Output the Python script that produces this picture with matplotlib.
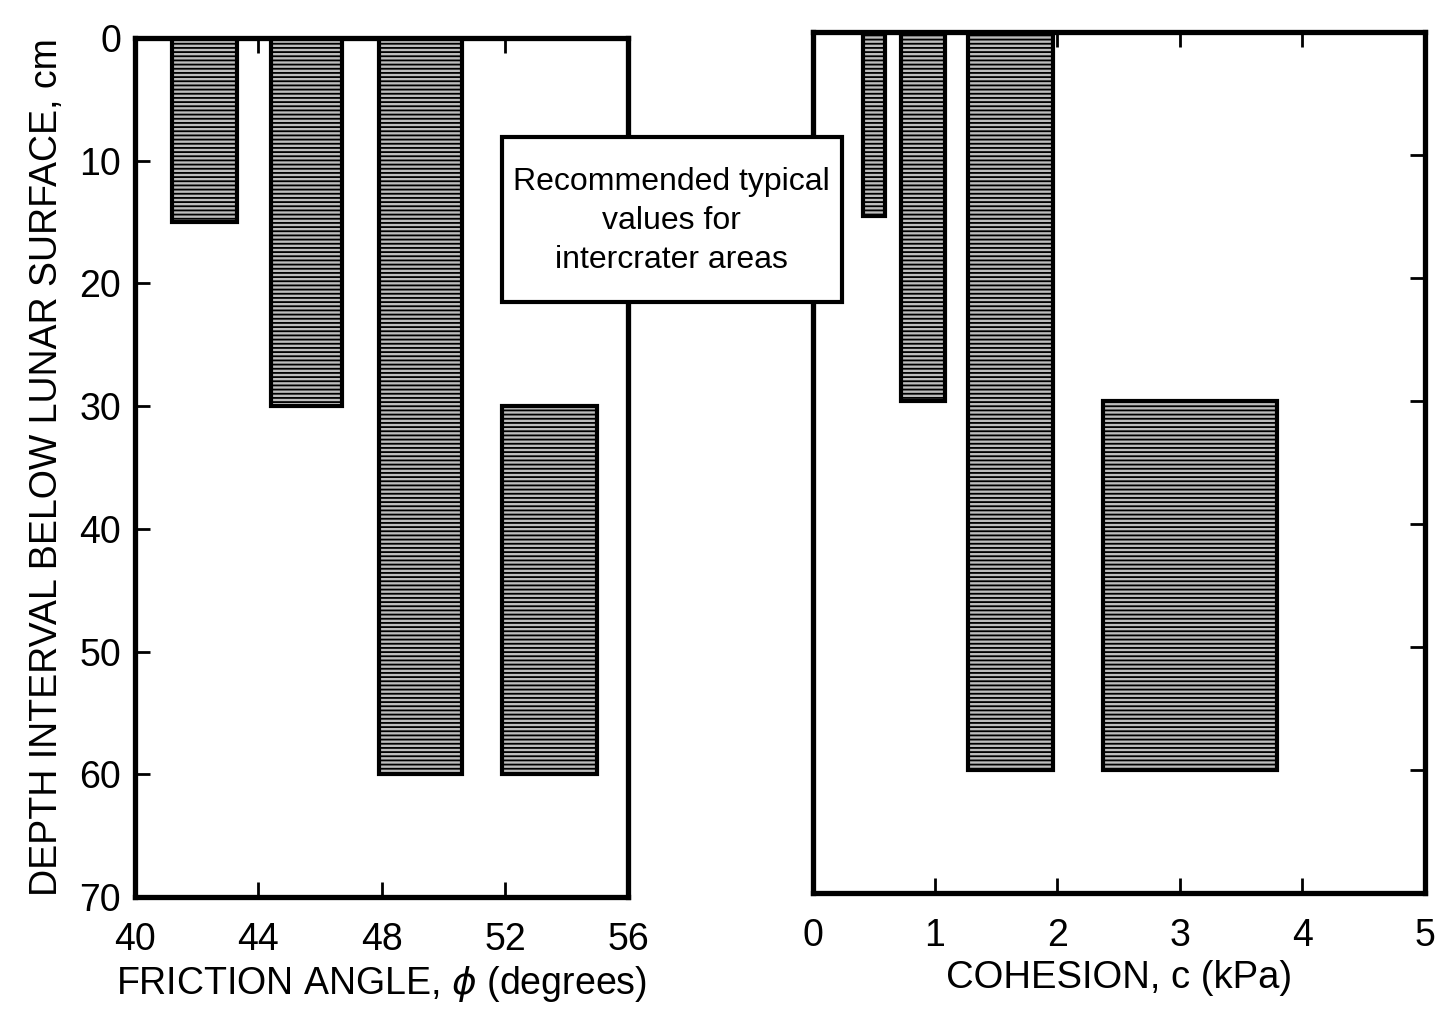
import matplotlib
matplotlib.use("Agg")
import matplotlib.pyplot as plt
from matplotlib.patches import Rectangle

plt.rcParams['font.family'] = ['Liberation Sans', 'DejaVu Sans']
plt.rcParams['hatch.linewidth'] = 1.3
plt.rcParams['hatch.color'] = 'black'

# Friction angle bars (degrees): low, high, depth top, depth bottom
phi_low = [41.2, 44.4, 47.9, 51.9]
phi_high = [43.3, 46.7, 50.6, 55.0]
phi_top = [0, 0, 0, 30]
phi_bottom = [15, 30, 60, 60]

# Cohesion bars (kPa)
c_low = [0.41, 0.72, 1.27, 2.37]
c_high = [0.59, 1.08, 1.96, 3.79]
c_top = [0, 0, 0, 30]
c_bottom = [15, 30, 60, 60]

phi_ticks = [40, 44, 48, 52, 56]
c_ticks = [0, 1, 2, 3, 4, 5]
depth_ticks = [0, 10, 20, 30, 40, 50, 60, 70]

fig = plt.figure(figsize=(14.51, 10.23), dpi=100)
ax1 = fig.add_axes([0.093, 0.123, 0.340, 0.840])
ax2 = fig.add_axes([0.560, 0.127, 0.422, 0.842])

def draw_bars(ax, lo, hi, top, bot):
    for a, b, t, d in zip(lo, hi, top, bot):
        ax.bar(a, d - t, width=b - a, bottom=t, align='edge',
               facecolor='#bdbdbd', edgecolor='black', linewidth=3,
               hatch='----', zorder=2)

draw_bars(ax1, phi_low, phi_high, phi_top, phi_bottom)
draw_bars(ax2, c_low, c_high, c_top, c_bottom)

for ax in (ax1, ax2):
    ax.set_ylim(70, 0)
    for s in ax.spines.values():
        s.set_linewidth(3.8)
    ax.tick_params(direction='in', length=11, width=2, labelsize=27)
    ax.tick_params(axis='x', pad=18)
    ax.tick_params(axis='y', pad=10)

ax1.set_xlim(40, 56)
ax1.set_xticks(phi_ticks)
ax1.set_yticks(depth_ticks)
ax1.tick_params(top=True, right=False)
ax1.set_xlabel('FRICTION ANGLE, $\\phi$ (degrees)', fontsize=27, labelpad=4)
ax1.set_ylabel('DEPTH INTERVAL BELOW LUNAR SURFACE, cm', fontsize=27, labelpad=10)

ax2.set_xlim(0, 5)
ax2.set_xticks(c_ticks)
ax2.set_yticks(depth_ticks)
ax2.tick_params(top=True, right=True, left=False, labelleft=False)
ax2.set_xlabel('COHESION, c (kPa)', fontsize=27.5, labelpad=4)

box = Rectangle((0.346, 0.705), 0.234, 0.161, transform=fig.transFigure,
                facecolor='white', edgecolor='black', linewidth=3, zorder=10)
fig.patches.append(box)
fig.text(0.4625, 0.784, 'Recommended typical\nvalues for\nintercrater areas',
         ha='center', va='center', fontsize=23, linespacing=1.38, zorder=11)

fig.savefig('out.png', dpi=100)
